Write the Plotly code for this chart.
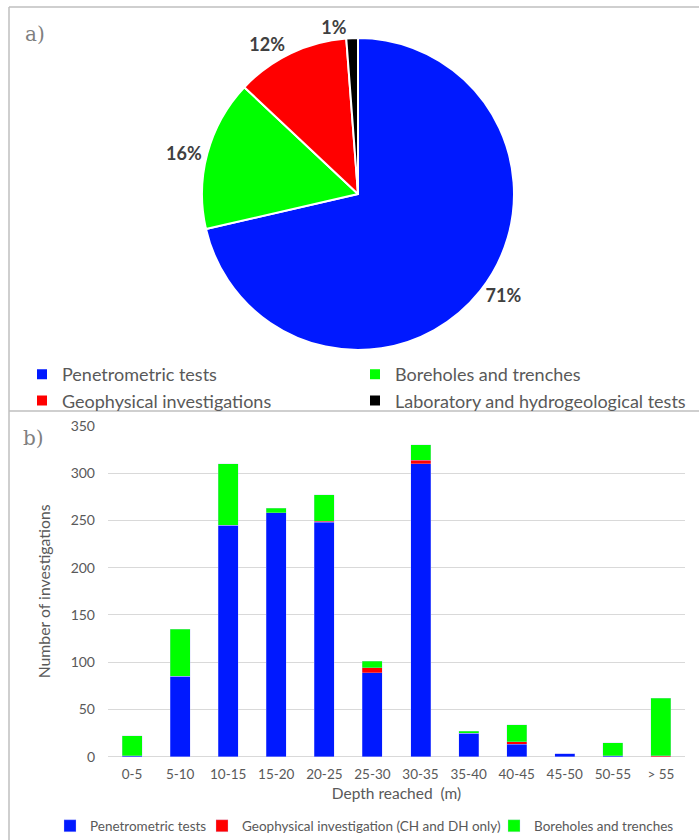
import plotly.graph_objects as go

W, H = 699, 840

# ---- Pie data (share of investigations, %) ----
pie_labels = ["Penetrometric tests", "Boreholes and trenches",
              "Geophysical investigations", "Laboratory and hydrogeological tests"]
pie_values = [71.4, 15.6, 11.8, 1.2]
pie_colors = ["#0019FF", "#00FF00", "#FF0000", "#000000"]
PCT = "%{percent:.0%}"

# ---- Bar data (number of investigations by depth) ----
depth_classes = ["0-5", "5-10", "10-15", "15-20", "20-25", "25-30",
                 "30-35", "35-40", "40-45", "45-50", "50-55", "> 55"]
penetrometric = [1, 85, 245, 258, 248, 89, 310, 25, 13, 3, 1, 0]
geophysical = [0, 0, 0, 0, 1, 5, 4, 0, 3, 0, 0, 1]
boreholes = [21, 50, 65, 5, 28, 7, 16, 2, 18, 0, 14, 61]
bar_names = ["Penetrometric tests", "Geophysical investigation (CH and DH only)",
             "Boreholes and trenches"]
bar_colors = ["#0019FF", "#FF0000", "#00FF00"]
y_ticks = [0, 50, 100, 150, 200, 250, 300, 350]


def px(x):
    return x / W


def py(y):
    return 1 - y / H


FONT = "Lato"
GRAY = "#595959"
pie_domain = dict(x=[px(358 - 156), px(358 + 156)], y=[py(350), py(38)])
pie_font = dict(family=FONT, size=18, color="#404040", weight="bold")

fig = go.Figure()

# main pie: slices + labels of the larger slices
fig.add_trace(go.Pie(
    labels=pie_labels, values=pie_values, sort=False, direction="clockwise",
    rotation=0, marker=dict(colors=pie_colors, line=dict(color="white", width=2)),
    textposition="outside", texttemplate=[PCT, PCT, PCT, ""],
    textfont=pie_font, domain=pie_domain,
    legend="legend", showlegend=True, hoverinfo="label+percent", automargin=False,
))
# same pie, transparent, carrying only the small slice's label (avoids label scooting)
fig.add_trace(go.Pie(
    labels=pie_labels, values=pie_values, sort=False, direction="clockwise",
    rotation=0, marker=dict(colors=["rgba(0,0,0,0)"] * 4, line=dict(width=0)),
    textposition="outside", texttemplate=["", "", "", PCT],
    textfont=pie_font, domain=pie_domain,
    showlegend=False, hoverinfo="skip", automargin=False,
))

bar_legends = ["legend2", "legend3", "legend4"]
for name, vals, col, lg in zip(bar_names, [penetrometric, geophysical, boreholes],
                               bar_colors, bar_legends):
    fig.add_trace(go.Bar(
        x=depth_classes, y=vals, name=name,
        marker=dict(color=col, line=dict(color="rgba(200,200,255,0.6)", width=0.5)),
        legend=lg,
    ))

bar_leg_common = dict(orientation="h", xanchor="left", y=py(826), yanchor="middle",
                      font=dict(family=FONT, size=13.5, color=GRAY),
                      bgcolor="rgba(0,0,0,0)", itemclick=False, itemdoubleclick=False)

fig.update_layout(
    width=W, height=H, autosize=False,
    margin=dict(l=0, r=0, t=0, b=0, autoexpand=False),
    paper_bgcolor="white", plot_bgcolor="white",
    barmode="stack", bargap=0.584,
    font=dict(family=FONT, color=GRAY),
    xaxis=dict(domain=[px(108), px(685)], showgrid=False, showline=False, automargin=False,
               ticks="", tickfont=dict(size=13.5, color=GRAY), ticklabelstandoff=8,
               title=dict(text="Depth reached  (m)", font=dict(size=15.5, color=GRAY),
                          standoff=6)),
    yaxis=dict(domain=[py(756.7), py(426)], range=[0, 350], tickvals=y_ticks,
               showgrid=True, gridcolor="#d9d9d9", gridwidth=1, automargin=False,
               zeroline=True, zerolinecolor="#d9d9d9", zerolinewidth=1,
               showline=False, ticks="", tickfont=dict(size=14, color=GRAY),
               ticklabelstandoff=12,
               title=dict(text="Number of investigations", font=dict(size=15.8, color=GRAY),
                          standoff=16)),
    legend=dict(orientation="h", x=px(22), xanchor="left", y=py(356), yanchor="top",
                entrywidth=288, entrywidthmode="pixels", traceorder="normal",
                font=dict(family=FONT, size=18, color=GRAY), bgcolor="rgba(0,0,0,0)",
                itemclick=False, itemdoubleclick=False),
    legend2=dict(x=px(50), **bar_leg_common),
    legend3=dict(x=px(202), **bar_leg_common),
    legend4=dict(x=px(494), **bar_leg_common),
    shapes=[
        dict(type="line", xref="paper", yref="paper", x0=px(9), x1=1, y0=py(7), y1=py(7),
             line=dict(color="#bfbfbf", width=1.5)),
        dict(type="line", xref="paper", yref="paper", x0=px(9), x1=px(9), y0=py(7), y1=0,
             line=dict(color="#bfbfbf", width=1.5)),
        dict(type="line", xref="paper", yref="paper", x0=px(9), x1=1, y0=py(411), y1=py(411),
             line=dict(color="#bfbfbf", width=1.5)),
    ],
    annotations=[
        dict(text="a)", xref="paper", yref="paper", x=px(23), y=py(34), xanchor="left",
             yanchor="middle", showarrow=False,
             font=dict(family="DejaVu Serif", size=20, color="#7f7f7f")),
        dict(text="b)", xref="paper", yref="paper", x=px(21), y=py(438), xanchor="left",
             yanchor="middle", showarrow=False,
             font=dict(family="DejaVu Serif", size=20, color="#7f7f7f")),
    ],
)

fig.write_html("out.html", config={"displayModeBar": False},
               post_script="document.body.style.margin='0';")
